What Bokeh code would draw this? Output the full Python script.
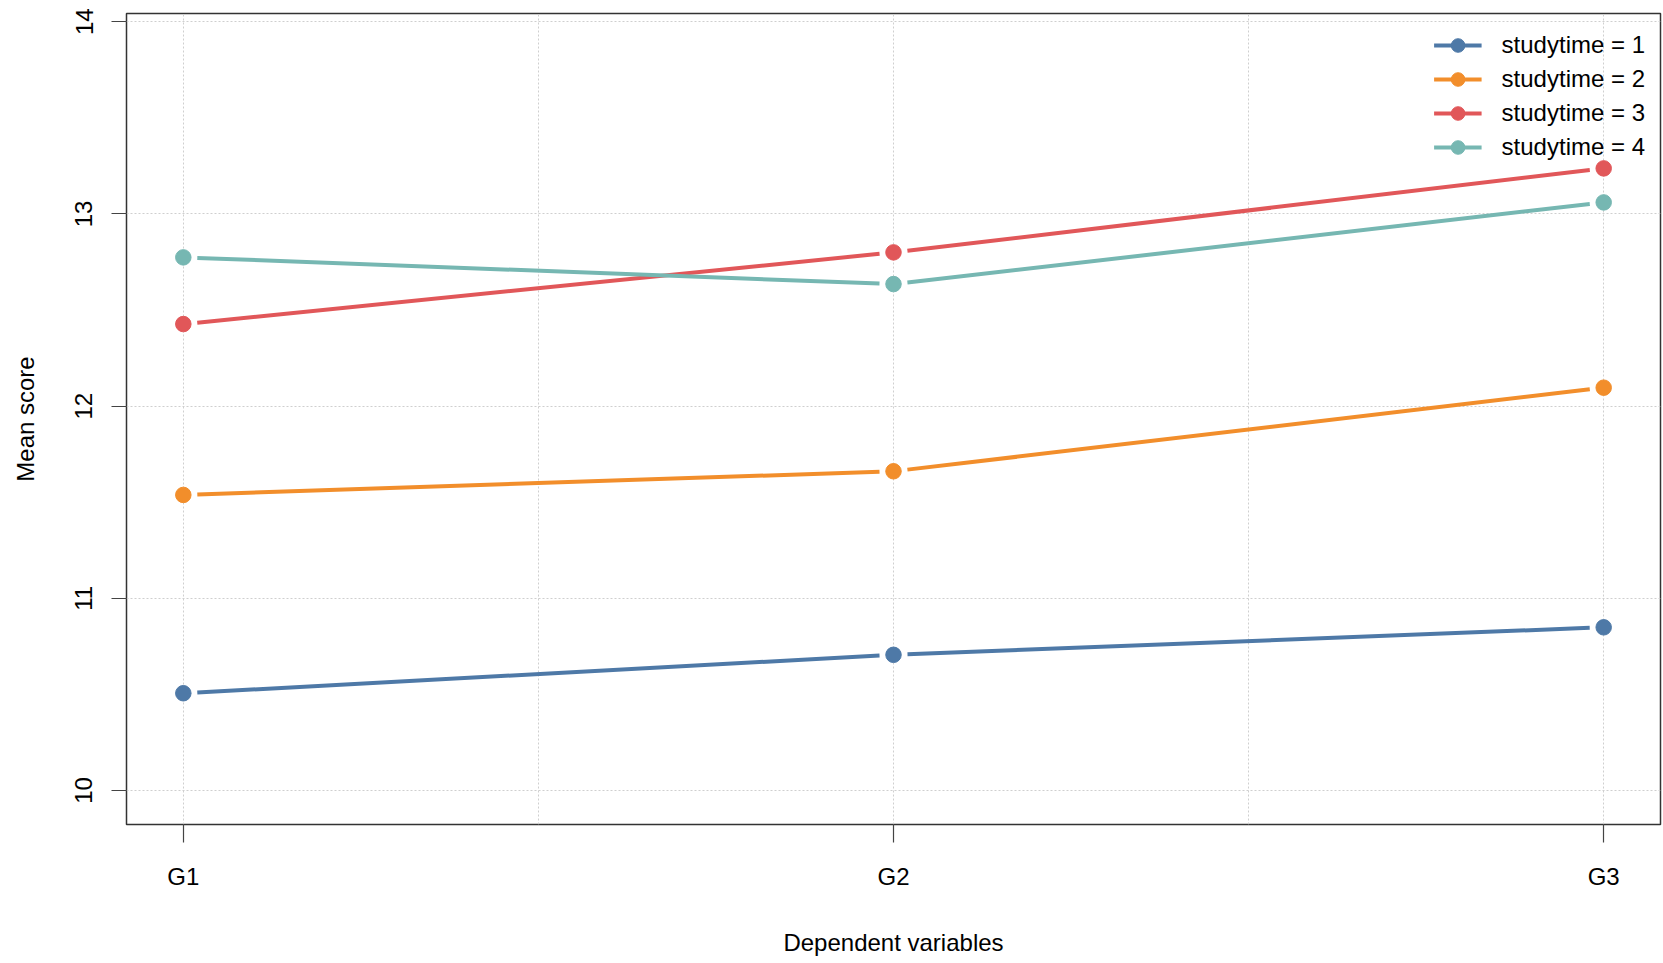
import math
from bokeh.plotting import figure
from bokeh.models import Range1d, FixedTicker, Legend, LegendItem
from bokeh.embed import file_html
from bokeh.resources import INLINE

# ---- data ----
variables = ["G1", "G2", "G3"]
series_labels = ["studytime = 1", "studytime = 2", "studytime = 3", "studytime = 4"]
studytime_1 = [10.506, 10.706, 10.849]
studytime_2 = [11.538, 11.661, 12.096]
studytime_3 = [12.427, 12.800, 13.237]
studytime_4 = [12.774, 12.635, 13.060]
y_ticks = [10, 11, 12, 13, 14]
colors = ["#4E79A7", "#F28E2B", "#E15759", "#76B7B2"]

series = [studytime_1, studytime_2, studytime_3, studytime_4]
xs = [i + 1 for i in range(len(variables))]

W, H = 1662, 960
BL, BR, BT, BB = 126, 2, 13, 136
X0, X1 = 0.92, 3.08
Y0, Y1 = 9.823, 14.043
FONT = "Liberation Sans"

p = figure(width=W, height=H, output_backend="svg", toolbar_location=None,
           x_range=Range1d(X0, X1), y_range=Range1d(Y0, Y1),
           min_border_left=BL, min_border_right=BR, min_border_top=BT, min_border_bottom=BB)
p.background_fill_color = "white"
p.border_fill_color = "white"
p.outline_line_color = "#333333"
p.outline_line_width = 1.5

# axes
p.xaxis.ticker = FixedTicker(ticks=xs)
p.xaxis.major_label_overrides = {x: v for x, v in zip(xs, variables)}
p.yaxis.ticker = FixedTicker(ticks=y_ticks)
for ax in (p.xaxis[0], p.yaxis[0]):
    ax.axis_line_color = None
    ax.major_tick_in = 0
    ax.minor_tick_line_color = None
    ax.major_tick_line_color = "#444444"
    ax.major_tick_line_width = 1.2
    ax.major_label_text_font = FONT
    ax.major_label_text_font_size = "24px"
    ax.major_label_text_color = "black"
    ax.axis_label_text_font = FONT
    ax.axis_label_text_font_size = "24px"
    ax.axis_label_text_font_style = "normal"
    ax.axis_label_text_color = "black"
p.xaxis.major_tick_out = 18
p.yaxis.major_tick_out = 15
p.xaxis.major_label_standoff = 20
p.yaxis.major_label_standoff = 19
p.yaxis.major_label_orientation = "vertical"
p.xaxis.axis_label = "Dependent variables"
p.yaxis.axis_label = "Mean score"
p.xaxis.axis_label_standoff = 36
p.yaxis.axis_label_standoff = 34

# grid
p.xgrid.ticker = FixedTicker(ticks=[1, 1.5, 2, 2.5, 3])
p.ygrid.ticker = FixedTicker(ticks=y_ticks)
for g in (p.xgrid[0], p.ygrid[0]):
    g.grid_line_color = "#cfcfcf"
    g.grid_line_dash = "2 2"
    g.grid_line_width = 1

# pixel scale for gaps between points and lines (R type="b")
fw = W - BL - BR
fh = H - BT - BB
sx = fw / (X1 - X0)
sy = fh / (Y1 - Y0)
GAP = 14

items = []
for vals, col, lab in zip(series, colors, series_labels):
    x0s, y0s, x1s, y1s = [], [], [], []
    for i in range(len(xs) - 1):
        dxp = (xs[i + 1] - xs[i]) * sx
        dyp = (vals[i + 1] - vals[i]) * sy
        L = math.hypot(dxp, dyp)
        fx = GAP / L
        x0s.append(xs[i] + (xs[i + 1] - xs[i]) * fx)
        y0s.append(vals[i] + (vals[i + 1] - vals[i]) * fx)
        x1s.append(xs[i + 1] - (xs[i + 1] - xs[i]) * fx)
        y1s.append(vals[i + 1] - (vals[i + 1] - vals[i]) * fx)
    seg = p.segment(x0=x0s, y0=y0s, x1=x1s, y1=y1s, line_color=col, line_width=4)
    pts = p.scatter(x=xs, y=vals, size=15.5, marker="circle", fill_color=col, line_color=col)
    items.append(LegendItem(label=lab, renderers=[seg, pts]))

legend = Legend(items=items, location="top_right")
legend.border_line_color = None
legend.background_fill_alpha = 0
legend.label_text_font = FONT
legend.label_text_font_size = "24px"
legend.label_text_color = "black"
legend.glyph_width = 48
legend.glyph_height = 34
legend.label_height = 34
legend.label_standoff = 20
legend.spacing = 0
legend.margin = 15
legend.padding = 0
p.add_layout(legend)

open("out.html", "w").write(file_html(p, INLINE))
